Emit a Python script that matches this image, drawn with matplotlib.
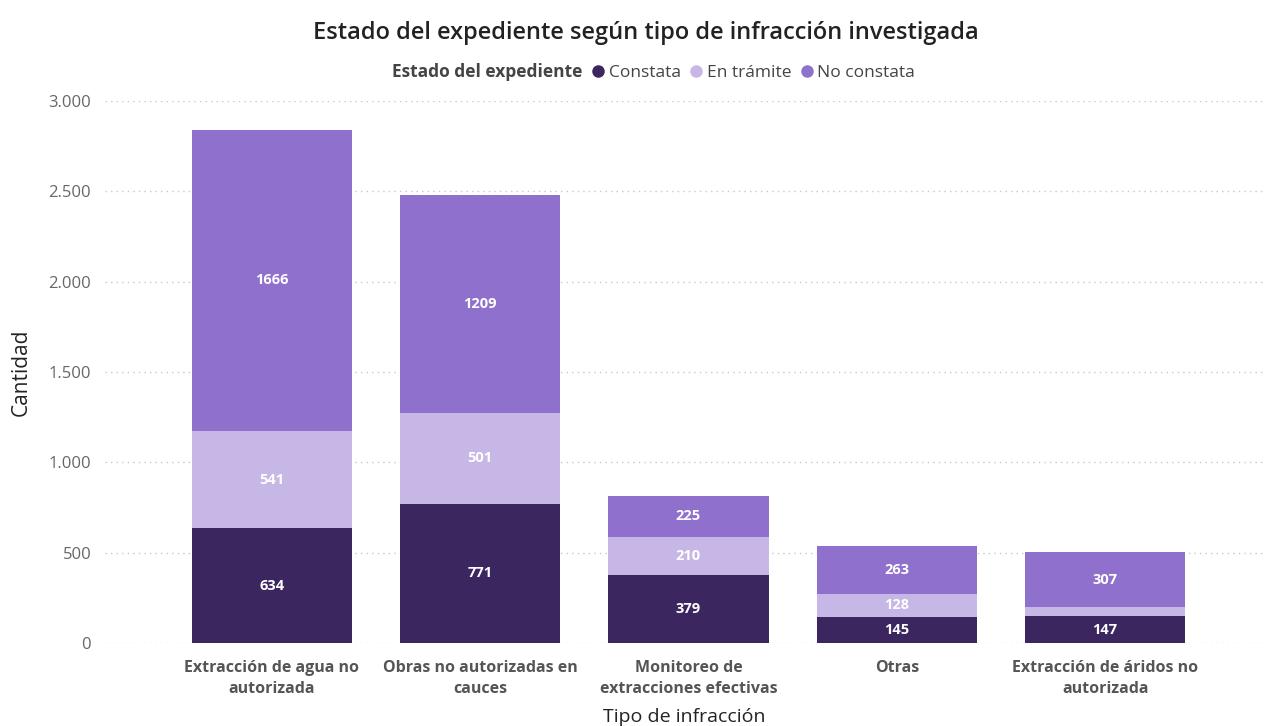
import numpy as np
import matplotlib.pyplot as plt
from matplotlib.lines import Line2D
from matplotlib.ticker import FuncFormatter

categorias = ['Extracción de agua no\nautorizada', 'Obras no autorizadas en\ncauces',
              'Monitoreo de\nextracciones efectivas', 'Otras', 'Extracción de áridos no\nautorizada']
constata = [634, 771, 379, 145, 147]
en_tramite = [541, 501, 210, 128, 50]
no_constata = [1666, 1209, 225, 263, 307]

series = [('Constata', constata, '#3b2660'),
          ('En trámite', en_tramite, '#c6b7e6'),
          ('No constata', no_constata, '#8f70cd')]

plt.rcParams['font.family'] = ['Open Sans', 'DejaVu Sans']

fig = plt.figure(figsize=(12.66, 7.26), dpi=100)
ax = fig.add_axes([0.083, 0.1143, 0.915, 0.7467])

x = np.arange(len(categorias))
base = np.zeros(len(categorias))
for nombre, valores, color in series:
    valores = np.array(valores)
    ax.bar(x, valores, bottom=base, width=0.77, color=color, zorder=3)
    for xi, b, v in zip(x, base, valores):
        if v >= 100:
            ax.text(xi, b + v / 2, str(v), ha='center', va='center', color='white',
                    fontsize=10.5, fontweight='bold', zorder=4)
    base += valores

ax.set_ylim(0, 3000)
ax.set_xlim(-0.8, 4.76)
ax.set_yticks(range(0, 3001, 500))
ax.yaxis.set_major_formatter(FuncFormatter(lambda v, p: f'{int(v):,}'.replace(',', '.')))
ax.grid(axis='y', linestyle=(0, (1, 3)), color='#c8c8c8', linewidth=1, zorder=0)
ax.set_xticks(x)
ax.set_xticklabels(categorias, fontsize=11.5, fontweight='bold', color='#555555',
                   linespacing=1.45)
ax.tick_params(axis='y', labelsize=12, labelcolor='#666666', length=0, pad=10)
ax.tick_params(axis='x', length=0, pad=12)
for s in ax.spines.values():
    s.set_visible(False)

ax.set_ylabel('Cantidad', fontsize=15, color='#222222', labelpad=12)
ax.set_xlabel('Tipo de infracción', fontsize=14, color='#222222', labelpad=8)

fig.text(0.51, 0.955, 'Estado del expediente según tipo de infracción investigada',
         ha='center', va='center', fontsize=17, fontweight='semibold', color='#222222')

handles = [Line2D([], [], linestyle='none')]
labels = ['Estado del expediente']
for nombre, valores, color in series:
    handles.append(Line2D([], [], linestyle='none', marker='o', markersize=8, color=color))
    labels.append(nombre)
leg = fig.legend(handles, labels, loc='center', bbox_to_anchor=(0.51, 0.901), ncol=4,
                 frameon=False, fontsize=12.5, handlelength=0.6, handletextpad=0.3,
                 columnspacing=0.6, borderpad=0)
for t in leg.get_texts():
    t.set_color('#444444')
leg.get_texts()[0].set_fontweight('bold')

fig.savefig('out.png', dpi=100)
